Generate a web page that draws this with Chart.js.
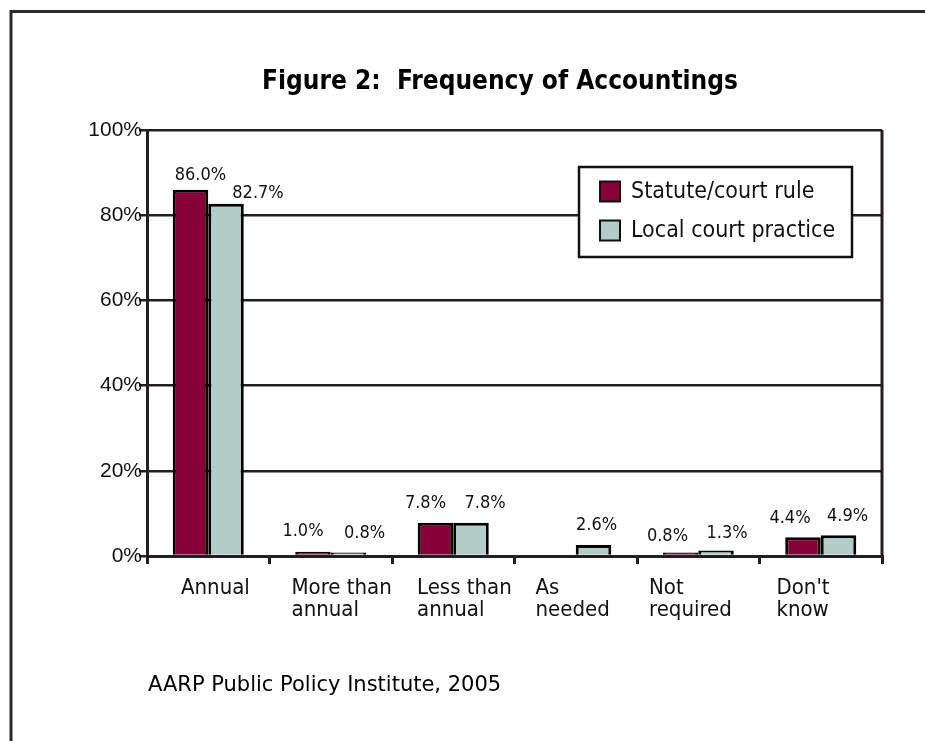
<!DOCTYPE html>
<html>
<head>
<meta charset="utf-8">
<script src="https://cdn.jsdelivr.net/npm/chart.js@4/dist/chart.umd.min.js"></script>
<style>
  html, body { margin: 0; padding: 0; background: #fff; }
  canvas { display: block; }
</style>
</head>
<body>
<canvas id="grafico" width="925" height="741"></canvas>
<script>
const titulo = 'Figure 2:  Frequency of Accountings';
const fonte = 'AARP Public Policy Institute, 2005';

const categorias = [['Annual'], ['More than', 'annual'], ['Less than', 'annual'], ['As', 'needed'], ['Not', 'required'], ["Don't", 'know']];
const seriesNomes = ['Statute/court rule', 'Local court practice'];
const statuteRule = [86.0, 1.0, 7.8, null, 0.8, 4.4];
const localPractice = [82.7, 0.8, 7.8, 2.6, 1.3, 4.9];
const yTicks = [0, 20, 40, 60, 80, 100];

const CORES = ['#870037', '#b2cdc8'];
const LINHA = '#231f20';
const COND = '"DejaVu Sans Condensed", "DejaVu Sans", sans-serif';

// small nudges of the value labels, [dx, gap above bar] per series / category
const ajusteRotulos = [
    [[10, 10], [-10, 16], [-10, 15], [0, 15], [-13, 12], [-13, 14]],
    [[32, 6], [16, 15], [14, 15], [3, 15], [11, 12], [9, 14]]
];
// left offset of each category label inside its band
const recuoCategorias = [34, 22, 25, 21, 12, 17];

const enfeites = {
    id: 'enfeites',
    beforeDraw(chart) {
        const c = chart.ctx;
        c.save();
        c.fillStyle = '#fff';
        c.fillRect(0, 0, chart.width, chart.height);
        // page frame (top and left only, the rest is cropped)
        c.strokeStyle = '#2b2b2b';
        c.lineWidth = 3;
        c.beginPath();
        c.moveTo(11, chart.height);
        c.lineTo(11, 11.5);
        c.lineTo(chart.width, 11.5);
        c.stroke();

        c.fillStyle = '#000';
        c.font = 'bold 26px ' + COND;
        c.textAlign = 'center';
        c.textBaseline = 'alphabetic';
        c.fillText(titulo, 500, 89);

        c.font = '21px "DejaVu Sans", sans-serif';
        c.textAlign = 'left';
        c.fillText(fonte, 148, 691);
        c.restore();
    },
    afterDraw(chart) {
        const c = chart.ctx;
        const area = chart.chartArea;
        const x = chart.scales.x;
        c.save();

        // right side of the plot frame
        c.strokeStyle = LINHA;
        c.lineWidth = 3;
        c.beginPath();
        c.moveTo(area.right, area.top);
        c.lineTo(area.right, area.bottom);
        c.stroke();

        // value labels
        c.fillStyle = '#111';
        c.font = '18px ' + COND;
        c.textAlign = 'center';
        c.textBaseline = 'alphabetic';
        chart.data.datasets.forEach((ds, i) => {
            chart.getDatasetMeta(i).data.forEach((bar, j) => {
                const v = ds.data[j];
                if (v == null) return;
                const [dx, gap] = ajusteRotulos[i][j];
                c.fillText(v.toFixed(1) + '%', bar.x + dx, bar.y - gap);
            });
        });

        // category labels, left aligned in each band
        const banda = x.width / categorias.length;
        c.font = '22px ' + COND;
        c.textAlign = 'left';
        categorias.forEach((linhas, j) => {
            const x0 = x.getPixelForValue(j) - banda / 2 + recuoCategorias[j];
            linhas.forEach((t, k) => c.fillText(t, x0, 594 + k * 22));
        });

        // legend
        c.fillStyle = '#fff';
        c.fillRect(579, 167, 273, 90);
        c.strokeStyle = '#111';
        c.lineWidth = 2.5;
        c.strokeRect(579, 167, 273, 90);
        c.font = '23px ' + COND;
        c.textBaseline = 'middle';
        chart.data.datasets.forEach((ds, i) => {
            const y = 191.5 + i * 39;
            c.fillStyle = ds.backgroundColor;
            c.fillRect(600, y - 10, 20, 20);
            c.lineWidth = 2;
            c.strokeRect(600, y - 10, 20, 20);
            c.fillStyle = '#111';
            c.fillText(ds.label, 631, y + 1);
        });
        c.restore();
    }
};

new Chart(document.getElementById('grafico'), {
    type: 'bar',
    data: {
        labels: categorias,
        datasets: [
            { label: seriesNomes[0], data: statuteRule, backgroundColor: CORES[0] },
            { label: seriesNomes[1], data: localPractice, backgroundColor: CORES[1] }
        ]
    },
    options: {
        responsive: false,
        animation: false,
        devicePixelRatio: 1,
        layout: { padding: { top: 130, right: 43, bottom: 0, left: 0 } },
        datasets: {
            bar: {
                categoryPercentage: 0.58,
                barPercentage: 1,
                borderColor: '#000',
                borderWidth: 3
            }
        },
        plugins: {
            legend: { display: false },
            title: { display: false },
            tooltip: { enabled: false }
        },
        scales: {
            x: {
                grid: {
                    offset: true,
                    drawOnChartArea: false,
                    color: LINHA,
                    lineWidth: 3,
                    tickLength: 8
                },
                border: { color: LINHA, width: 3 },
                ticks: { display: false },
                afterFit(scale) { scale.height = 185; }
            },
            y: {
                min: yTicks[0],
                max: yTicks[yTicks.length - 1],
                afterBuildTicks(scale) { scale.ticks = yTicks.map(v => ({ value: v })); },
                grid: { color: LINHA, lineWidth: 2.5, tickLength: 8 },
                border: { color: LINHA, width: 3 },
                ticks: {
                    padding: -3,
                    color: '#111',
                    font: { family: 'Liberation Sans', size: 21 },
                    callback: v => v + '%'
                },
                afterFit(scale) { scale.width = 147; }
            }
        }
    },
    plugins: [enfeites]
});
</script>
</body>
</html>
